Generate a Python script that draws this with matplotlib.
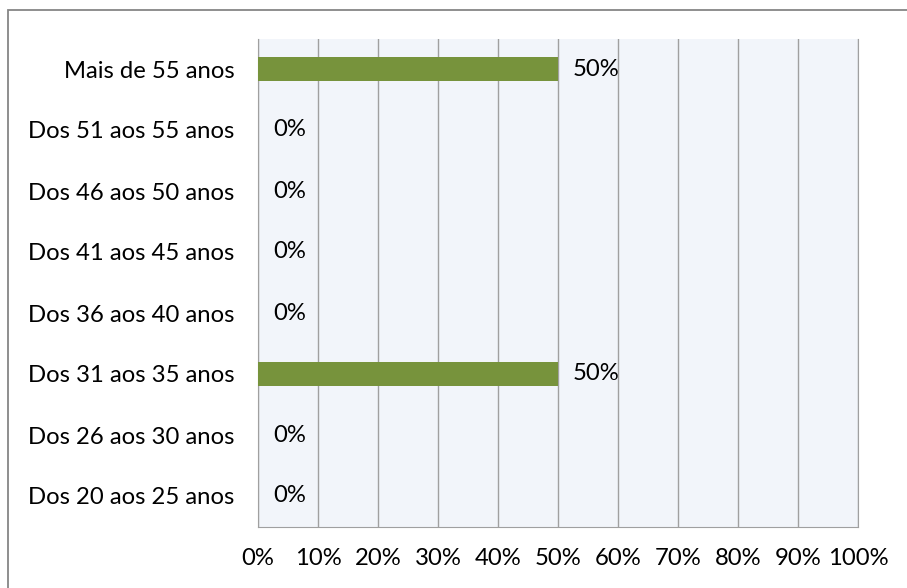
import matplotlib
matplotlib.use("Agg")
import matplotlib.pyplot as plt
from matplotlib.patches import Rectangle

categories = ["Dos 20 aos 25 anos", "Dos 26 aos 30 anos", "Dos 31 aos 35 anos",
              "Dos 36 aos 40 anos", "Dos 41 aos 45 anos", "Dos 46 aos 50 anos",
              "Dos 51 aos 55 anos", "Mais de 55 anos"]
values = [0, 0, 50, 0, 0, 0, 0, 50]
xticks = [0, 10, 20, 30, 40, 50, 60, 70, 80, 90, 100]
xticklabels = [f"{t}%" for t in xticks]

W, H = 907, 588
fig = plt.figure(figsize=(W / 100, H / 100), dpi=100)
fig.patch.set_facecolor("white")
fig.patches.append(Rectangle((8 / W, -0.1), 1.2, 1 - 10 / H + 0.1, transform=fig.transFigure,
                             fill=False, edgecolor="#868686", linewidth=1.3))

left, right, top, bottom = 258, 858, 38.5, 526.5
ax = fig.add_axes([left / W, 1 - bottom / H, (right - left) / W, (bottom - top) / H])
ax.set_facecolor("#F2F5FA")

font = "Lato"
fs = 17.2
ypos = range(len(categories))
ax.barh(ypos, values, height=0.4, color="#77933C", zorder=3)
for y, v in zip(ypos, values):
    ax.text(v + 2.5, y, f"{v}%", va="center", ha="left", fontsize=fs,
            family=font, color="#000000", zorder=4)

ax.set_xlim(0, 100)
ax.set_ylim(-0.5, len(categories) - 0.5)
ax.set_xticks(xticks)
ax.set_xticklabels(xticklabels, family=font, fontsize=fs)
ax.set_yticks(list(ypos))
ax.set_yticklabels(categories, family=font, fontsize=fs)
ax.tick_params(axis="both", length=0)
ax.tick_params(axis="x", pad=15.5)
ax.tick_params(axis="y", pad=17)
ax.grid(axis="x", color="#A0A0A0", linewidth=1, zorder=1)
for s in ["left", "bottom", "right"]:
    ax.spines[s].set_color("#A0A0A0")
ax.spines["top"].set_visible(False)

fig.savefig("out.png", dpi=100)
